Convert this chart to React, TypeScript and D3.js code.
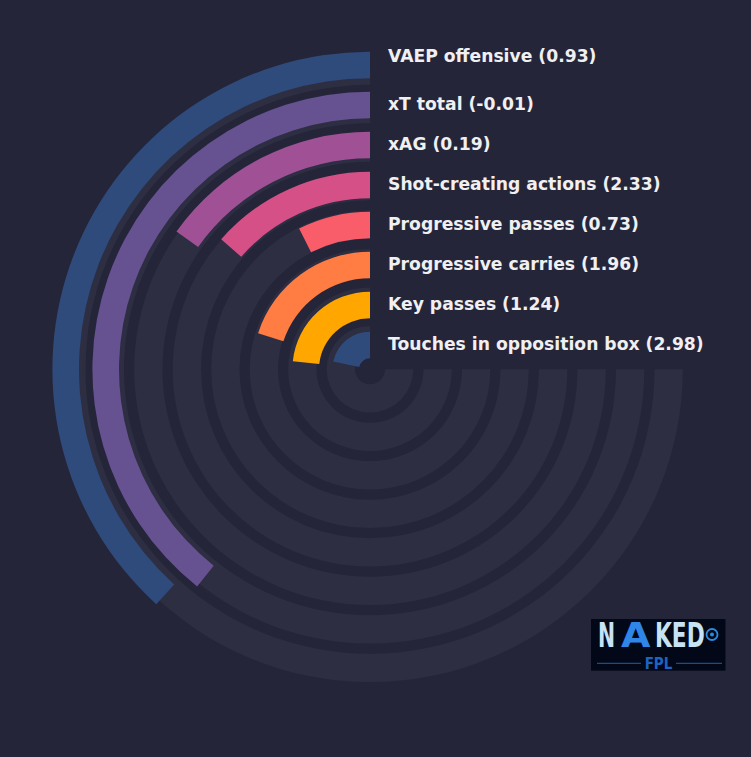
import * as d3 from "d3";

const categories = [
  "VAEP offensive",
  "xT total",
  "xAG",
  "Shot-creating actions",
  "Progressive passes",
  "Progressive carries",
  "Key passes",
  "Touches in opposition box",
];
const values = [0.93, -0.01, 0.19, 2.33, 0.73, 1.96, 1.24, 2.98];
// how far round each bar goes, 0-100 of the 3/4 track
const percentiles = [51, 52.4, 20.2, 18.1, 9.9, 26.7, 31.1, 28.9];
const colors = [
  "#2f4b7c",
  "#665191",
  "#a05195",
  "#d45087",
  "#f95d6a",
  "#ff7c43",
  "#ffa600",
  "#2f4b7c",
];

const W = 751;
const H = 757;
const cx = 370;
const cy = 369.3;
const BG = "#25253a";
const TRACK = "#2e2e43";

export default function App() {
  // inner ring first
  const inner = [...categories].reverse();

  const barR = d3
    .scaleBand<string>()
    .domain(inner)
    .range([11, 317.6])
    .paddingInner(0.335)
    .paddingOuter(0);

  const trackR = d3
    .scaleBand<string>()
    .domain(inner)
    .range([15, 312.8])
    .paddingInner(0.265)
    .paddingOuter(0);

  const angle = d3
    .scaleLinear()
    .domain([0, 100])
    .range([0, 1.5 * Math.PI]);

  const arc = d3.arc<{ r0: number; r1: number; a0: number; a1: number }>()
    .innerRadius((d) => d.r0)
    .outerRadius((d) => d.r1)
    .startAngle((d) => d.a0)
    .endAngle((d) => d.a1);

  const logoFont = {
    fontFamily: "DejaVu Sans",
    fontWeight: "bold",
    fontSize: 34,
  } as const;

  return (
    <svg
      width={W}
      height={H}
      style={{ position: "absolute", left: 0, top: 0 }}
    >
      <rect width={W} height={H} fill={BG} />
      <g transform={`translate(${cx},${cy})`}>
        {inner.map((c) => (
          <path
            key={"t" + c}
            fill={TRACK}
            d={
              arc({
                r0: trackR(c)!,
                r1: trackR(c)! + trackR.bandwidth(),
                a0: Math.PI / 2,
                a1: 2 * Math.PI,
              })!
            }
          />
        ))}
        {categories.map((c, i) => (
          <path
            key={"b" + c}
            fill={colors[i]}
            d={
              arc({
                r0: barR(c)!,
                r1: barR(c)! + barR.bandwidth(),
                a0: -angle(percentiles[i]),
                a1: 0,
              })!
            }
          />
        ))}
        {categories.map((c, i) => {
          const mid = barR(c)! + barR.bandwidth() / 2;
          const nudge = i === 0 ? -8 : 0;
          return (
            <text
              key={"l" + c}
              x={18}
              y={-mid + 4.7 + nudge}
              fill="#f0f0f2"
              fontFamily="DejaVu Sans"
              fontWeight="bold"
              fontSize={17.2}
            >
              {`${c} (${values[i].toFixed(2)})`}
            </text>
          );
        })}
      </g>
      <g transform="translate(591,619)">
        <rect width={134.5} height={51.7} fill="#020817" />
        <g transform="translate(7,28.3) scale(0.6,1)">
          <text fill="#c6e2f4" {...logoFont}>N</text>
        </g>
        <g transform="translate(30,28.3) scale(1.12,1)">
          <text fill="#2f86e8" {...logoFont}>A</text>
        </g>
        <g transform="translate(64,28.3) scale(0.64,1)">
          <text fill="#c6e2f4" {...logoFont}>KED</text>
        </g>
        <circle cx={121} cy={15.5} r={5.5} fill="none" stroke="#2a8ce0" strokeWidth={1.8} />
        <circle cx={121} cy={15.5} r={2} fill="#2a8ce0" />
        <line x1={6} x2={50} y1={44.3} y2={44.3} stroke="#1d5fb0" strokeWidth={1} />
        <line x1={85} x2={131} y1={44.3} y2={44.3} stroke="#1d5fb0" strokeWidth={1} />
        <text
          x={67.5}
          y={50}
          textAnchor="middle"
          fill="#1e63c4"
          fontFamily="DejaVu Sans Condensed"
          fontWeight="bold"
          fontSize={15}
        >
          FPL
        </text>
      </g>
    </svg>
  );
}
